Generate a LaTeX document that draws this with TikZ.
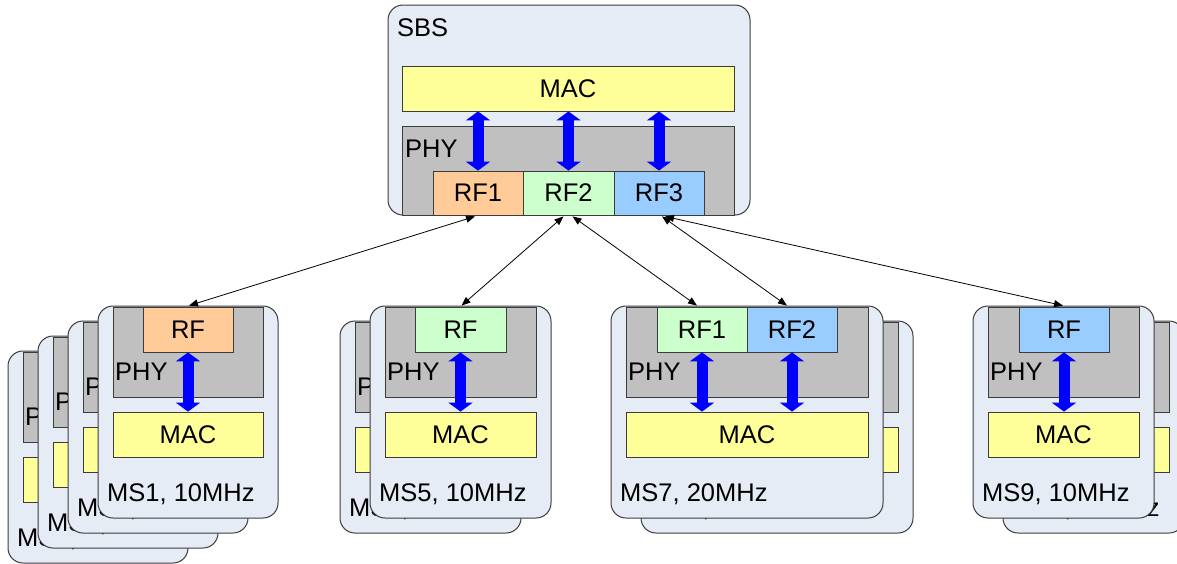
\documentclass[tikz,border=0pt]{standalone}
\usepackage{fontspec}
\setmainfont{Liberation Sans}
\usetikzlibrary{arrows.meta,fit,calc}
\definecolor{cardfill}{RGB}{230,236,246}
\definecolor{phygray}{RGB}{192,192,192}
\definecolor{macyel}{RGB}{255,255,153}
\definecolor{rforange}{RGB}{255,204,153}
\definecolor{rfgreen}{RGB}{204,255,204}
\definecolor{rfblue}{RGB}{153,204,255}
\definecolor{edge}{RGB}{60,60,60}
\tikzset{
  card/.style={draw=edge, line width=1pt, fill=cardfill, rounded corners=15pt, inner sep=0pt},
  phybox/.style={draw=edge, line width=0.8pt, fill=phygray, inner sep=0pt},
  macbox/.style={draw=edge, line width=0.8pt, fill=macyel, inner sep=0pt},
  rfbox/.style={draw=edge, line width=0.8pt, inner sep=0pt},
  txt/.style={inner sep=0pt},
  lbl/.style={inner sep=0pt, anchor=base west},
  bus/.style={draw=blue, line width=11pt, {Triangle[length=9pt,width=24pt]}-{Triangle[length=9pt,width=24pt]}},
  link/.style={draw=black, line width=0.8pt, {Triangle[length=9pt,width=7pt]}-{Triangle[length=9pt,width=7pt]}},
}
\newcommand\mscard[5]{%
  \node[card, fit={(#2,#3) (#2+#4,#3+212)}] (#1) {};
  \node[phybox, fit={(#2+15,#3+1) (#2+#4-15,#3+91)}] (#1phy) {};
  \node[macbox, fit={(#2+15,#3+106) (#2+#4-15,#3+151)}] (#1mac) {};
  \node[txt] (#1mact) at (#1mac.center) {MAC};
  \node[lbl] (#1phyl) at (#2+17,#3+74) {PHY};
  \node[lbl] (#1lab) at (#2+9,#3+195) {#5};
}
\newcommand\rfnode[5]{%
  \node[rfbox, fill=#2, fit={(#3) (#4)}] (#1) {};
  \node[txt] (#1t) at (#1.center) {#5};
}
\begin{document}
\begin{tikzpicture}[x=1pt,y=-1pt,font=\fontsize{25.5pt}{30pt}\selectfont]
\clip (0,0) rectangle (1177,563);
\fill[white] (0,0) rectangle (1177,563);
% SBS
\node[card, fit={(388,5) (750,215)}] (sbs) {};
\node[lbl] (sbsl) at (397,36) {SBS};
\node[macbox, fit={(402,66) (734,111)}] (smac) {};
\node[txt] (smact) at (smac.center) {MAC};
\node[phybox, fit={(402,126) (734,215)}] (sphy) {};
\node[lbl] (sphyl) at (405,157) {PHY};
\rfnode{srf1}{rforange}{433,171}{523,215}{RF1}
\rfnode{srf2}{rfgreen}{523,171}{614,215}{RF2}
\rfnode{srf3}{rfblue}{614,171}{704,215}{RF3}
\draw[bus] (srf1.north) -- (srf1.north |- smac.south);
\draw[bus] (srf2.north) -- (srf2.north |- smac.south);
\draw[bus] (srf3.north) -- (srf3.north |- smac.south);
% MS1 stack
\mscard{ma}{8}{351}{180}{MS4, 10MHz}
\mscard{mb}{38}{336}{180}{MS3, 10MHz}
\mscard{mc}{68}{321}{180}{MS2, 10MHz}
\mscard{m1}{98}{306}{180}{MS1, 10MHz}
\rfnode{m1rf}{rforange}{143,307}{233,352}{RF}
\draw[bus] (m1rf.south) -- (m1rf.south |- m1mac.north);
% MS5 stack
\mscard{md}{340}{321}{181}{MS6, 10MHz}
\mscard{m5}{370}{306}{181}{MS5, 10MHz}
\rfnode{m5rf}{rfgreen}{415,307}{506,352}{RF}
\draw[bus] (m5rf.south) -- (m5rf.south |- m5mac.north);
% MS7 stack
\mscard{me}{641}{321}{272}{MS8, 20MHz}
\mscard{m7}{611}{306}{272}{MS7, 20MHz}
\rfnode{m7rf1}{rfgreen}{657,307}{747,352}{RF1}
\rfnode{m7rf2}{rfblue}{747,307}{837,352}{RF2}
\draw[bus] (m7rf1.south) -- (m7rf1.south |- m7mac.north);
\draw[bus] (m7rf2.south) -- (m7rf2.south |- m7mac.north);
% MS9 stack
\mscard{mf}{1003}{321}{181}{MS9, 10MHz}
\mscard{m9}{973}{306}{181}{MS9, 10MHz}
\rfnode{m9rf}{rfblue}{1019,307}{1109,352}{RF}
\draw[bus] (m9rf.south) -- (m9rf.south |- m9mac.north);
% links
\draw[link] ($(srf1.south)+(-3,1)$) -- ($(m1rf.north)+(1,-1)$);
\draw[link] ($(srf2.south)+(-5,1)$) -- ($(m5rf.north)+(1,-1)$);
\draw[link] ($(srf2.south)+(4,1)$) -- ($(m7rf1.north)+(-5,-1)$);
\draw[link] ($(srf3.south)+(3,1)$) -- ($(m7rf2.north)+(-5,-1)$);
\draw[link] ($(srf3.south)+(6,1)$) -- ($(m9rf.north)+(-1,-1)$);
\end{tikzpicture}
\end{document}
